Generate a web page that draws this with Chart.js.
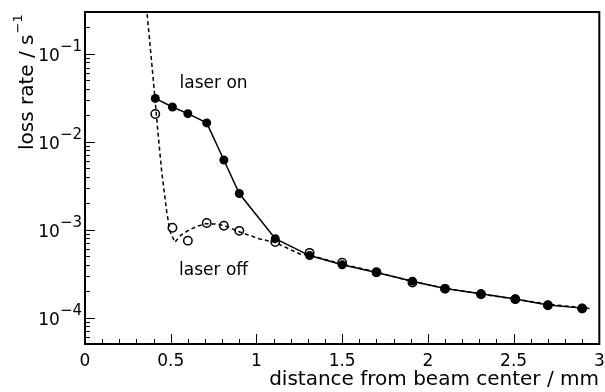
<!DOCTYPE html>
<html lang="en">
<head>
  <meta charset="UTF-8" />
  <title>Loss rate vs distance</title>
  <script src="https://cdn.jsdelivr.net/npm/chart.js"></script>
  <style>
    body { margin: 0; background: #fff; }
  </style>
</head>
<body>
  <canvas id="lossChart" width="605" height="392"></canvas>

  <script>
    // laser on (filled circles, solid line)
    const onX = [0.41, 0.51, 0.60, 0.71, 0.81, 0.90, 1.11, 1.31, 1.50, 1.70, 1.91, 2.10, 2.31, 2.51, 2.70, 2.90];
    const onY = [0.0312, 0.0249, 0.0209, 0.0164, 0.0062, 0.00258, 0.00079, 0.000507, 0.000398, 0.000325, 0.000259, 0.000214, 0.000186, 0.000163, 0.000139, 0.000128];

    // laser off (open circles)
    const offX = [0.41, 0.51, 0.60, 0.71, 0.81, 0.90, 1.11, 1.31, 1.50, 1.70, 1.91, 2.10, 2.31, 2.51, 2.70, 2.90];
    const offY = [0.0207, 0.00105, 0.00075, 0.00119, 0.00111, 0.00097, 0.000725, 0.000545, 0.00042, 0.000328, 0.00025, 0.000212, 0.000184, 0.000162, 0.000138, 0.000127];

    // dashed curve
    const fitX = [0.358, 0.363, 0.392, 0.408, 0.423, 0.447, 0.476, 0.495, 0.524, 0.56, 0.61, 0.66, 0.705, 0.76, 0.815, 0.86, 0.903, 1.019, 1.107, 1.252, 1.31, 1.50, 1.70, 1.90, 2.10, 2.30, 2.50, 2.70, 2.96];
    const fitY = [0.34, 0.277, 0.0689, 0.0315, 0.0144, 0.00466, 0.00164, 0.00097, 0.00072, 0.00087, 0.001, 0.0011, 0.00117, 0.00116, 0.00111, 0.00102, 0.00094, 0.000785, 0.00072, 0.00053, 0.000515, 0.000405, 0.00033, 0.00026, 0.000215, 0.000186, 0.000163, 0.000142, 0.000126];

    const xMajor = [0, 0.5, 1, 1.5, 2, 2.5, 3];
    const xLabels = ['0', '0.5', '1', '1.5', '2', '2.5', '3'];
    const yDecades = [-4, -3, -2, -1];

    const toPts = (xs, ys) => xs.map((x, i) => ({ x: x, y: ys[i] }));

    const FONT = '"DejaVu Sans", sans-serif';

    const framePlugin = {
      id: 'rootFrame',
      afterDraw(chart) {
        const ctx = chart.ctx;
        const a = chart.chartArea;
        const xs = chart.scales.x;
        const ys = chart.scales.y;
        ctx.save();
        ctx.strokeStyle = '#000';
        ctx.fillStyle = '#000';

        // frame
        ctx.lineWidth = 2;
        ctx.strokeRect(a.left, a.top, a.right - a.left, a.bottom - a.top);

        // x ticks (inside)
        ctx.lineWidth = 1;
        for (let i = 0; i <= 30; i++) {
          const v = i / 10;
          const px = Math.round(xs.getPixelForValue(v)) + 0.5;
          const len = (i % 5 === 0) ? 10 : 5;
          ctx.beginPath();
          ctx.moveTo(px, a.bottom);
          ctx.lineTo(px, a.bottom - len);
          ctx.stroke();
        }

        // y ticks (inside)
        for (let d = -5; d <= 0; d++) {
          for (let m = 1; m <= 9; m++) {
            const v = m * Math.pow(10, d);
            if (v < ys.min || v > ys.max) continue;
            const py = Math.round(ys.getPixelForValue(v)) + 0.5;
            const len = (m === 1) ? 10 : 5;
            ctx.beginPath();
            ctx.moveTo(a.left, py);
            ctx.lineTo(a.left + len, py);
            ctx.stroke();
          }
        }

        // x tick labels
        ctx.font = '17px ' + FONT;
        ctx.textAlign = 'center';
        ctx.textBaseline = 'alphabetic';
        xMajor.forEach((v, i) => {
          ctx.fillText(xLabels[i], xs.getPixelForValue(v), 366);
        });

        // y tick labels 10^n
        yDecades.forEach(d => {
          const py = ys.getPixelForValue(Math.pow(10, d));
          ctx.font = '15px ' + FONT;
          ctx.textAlign = 'right';
          const sup = '\u2212' + Math.abs(d);
          const supW = ctx.measureText(sup).width;
          ctx.fillText(sup, 82, py - 3);
          ctx.font = '17px ' + FONT;
          ctx.fillText('10', 82 - supW, py + 7);
        });

        // x title
        ctx.font = '20px ' + FONT;
        ctx.textAlign = 'right';
        ctx.fillText('distance from beam center / mm', 599, 385);

        // y title
        ctx.save();
        ctx.translate(33, 150);
        ctx.rotate(-Math.PI / 2);
        ctx.textAlign = 'left';
        ctx.font = '20px ' + FONT;
        const main = 'loss rate / s';
        ctx.fillText(main, 0, 0);
        const mw = ctx.measureText(main).width;
        ctx.font = '13px ' + FONT;
        ctx.fillText('\u22121', mw + 1, -11);
        ctx.restore();

        // annotations
        ctx.font = '17px ' + FONT;
        ctx.textAlign = 'center';
        ctx.textBaseline = 'middle';
        ctx.fillText('laser on', xs.getPixelForValue(0.75), ys.getPixelForValue(0.0457));
        ctx.fillText('laser off', xs.getPixelForValue(0.75), ys.getPixelForValue(0.000343));

        ctx.restore();
      }
    };

    const ctx = document.getElementById('lossChart').getContext('2d');
    new Chart(ctx, {
      type: 'line',
      data: {
        datasets: [
          {
            label: 'laser on',
            data: toPts(onX, onY),
            borderColor: '#000',
            backgroundColor: '#000',
            borderWidth: 1.5,
            pointRadius: 4.5,
            pointBorderWidth: 0,
            pointBackgroundColor: '#000',
            showLine: true,
            tension: 0,
            order: 1
          },
          {
            label: 'laser off',
            data: toPts(offX, offY),
            borderColor: '#000',
            pointRadius: 4.2,
            pointBorderWidth: 1.5,
            pointBorderColor: '#000',
            pointBackgroundColor: 'rgba(0,0,0,0)',
            showLine: false,
            order: 2
          },
          {
            label: 'curve',
            data: toPts(fitX, fitY),
            borderColor: '#000',
            borderWidth: 1.5,
            borderDash: [4, 3],
            pointRadius: 0,
            fill: false,
            tension: 0,
            order: 3
          }
        ]
      },
      options: {
        responsive: false,
        animation: false,
        layout: { padding: { left: 85, right: 5, top: 12, bottom: 48 } },
        plugins: {
          legend: { display: false },
          tooltip: { enabled: false }
        },
        scales: {
          x: { type: 'linear', min: 0, max: 3, display: false },
          y: { type: 'logarithmic', min: 5e-5, max: 0.3, display: false }
        }
      },
      plugins: [framePlugin]
    });
  </script>
</body>
</html>
